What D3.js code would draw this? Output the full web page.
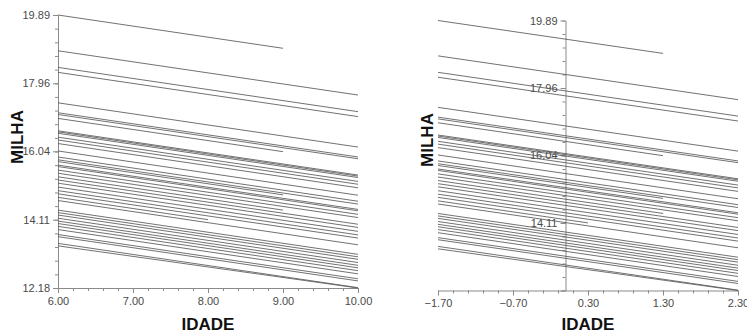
<!DOCTYPE html>
<html><head><meta charset="utf-8">
<script src="https://cdn.jsdelivr.net/npm/d3@7"></script>
<style>body{margin:0;background:#fff}svg{display:block}</style>
</head><body><svg id="c" width="747" height="334"></svg>
<script>
// Data
const idadeStart = 6.0;
const idadeEnd = [9,10,10,10,10,10,10,9,10,10,10,10,10,10,10,10,10,9,10,10,10,10,9,10,10,10,10,10,8,10,10,10,10,10,10,10,10,10,10,10,10,10];
const milhaStart = [19.89,18.88,18.41,18.27,17.41,17.13,17.08,16.97,16.62,16.59,16.55,16.44,16.36,16.26,16.05,15.88,15.80,15.75,15.65,15.61,15.51,15.42,15.32,15.23,15.14,15.03,14.93,14.84,14.74,14.65,14.38,14.31,14.24,14.15,14.07,14.00,13.92,13.83,13.69,13.63,13.44,13.37];
const milhaEnd = [18.95,17.63,17.16,17.02,16.16,15.88,15.83,16.03,15.37,15.34,15.30,15.19,15.11,15.01,14.80,14.63,14.55,14.81,14.40,14.36,14.26,14.17,14.38,13.98,13.89,13.78,13.68,13.59,14.11,13.40,13.13,13.06,12.99,12.90,12.82,12.75,12.67,12.58,12.44,12.38,12.19,12.18];
const centerAge = 7.70;
const yTicks = [12.18,14.11,16.04,17.96,19.89];
const xTicksLeft = [6,7,8,9,10];
const xTicksRight = [-1.70,-0.70,0.30,1.30,2.30];
const yLabel = "MILHA", xLabel = "IDADE";

const svg = d3.select("#c");
const font = "'Liberation Sans', Arial, sans-serif";
const lines = idadeEnd.map((e,i)=>({x0:idadeStart,x1:e,y0:milhaStart[i],y1:milhaEnd[i]}));
const yMinor = d3.range(0,21).map(k=>12.18+k*(19.89-12.18)/20);

function styleAxis(g){
  g.selectAll("path,line").attr("stroke","#8a8a8a").attr("stroke-width",1);
  g.selectAll("text").attr("font-family",font).attr("font-size",11).attr("fill","#4a4a4a");
}

function panel(opt){
  const x = d3.scaleLinear().domain(opt.xd).range(opt.xr);
  const y = d3.scaleLinear().domain([12.18,19.89]).range(opt.yr);
  const g = svg.append("g");
  const xMinor = d3.range(0,21).map(k=>opt.xd[0]+k*0.2);
  const gxm = g.append("g").attr("transform",`translate(0,${opt.yr[0]})`)
    .call(d3.axisBottom(x).tickValues(xMinor).tickSize(3).tickSizeOuter(0).tickFormat(""));
  styleAxis(gxm);
  const gx = g.append("g").attr("transform",`translate(0,${opt.yr[0]})`)
    .call(d3.axisBottom(x).tickValues(opt.xt).tickSize(5).tickSizeOuter(0).tickPadding(4).tickFormat(d3.format(".2f")));
  styleAxis(gx);
  gx.select(".domain").remove();
  const ax = opt.yAxisAt===null ? opt.xr[0] : x(opt.yAxisAt);
  const gym = g.append("g").attr("transform",`translate(${ax},0)`)
    .call(d3.axisLeft(y).tickValues(yMinor).tickSize(3).tickSizeOuter(0).tickFormat(""));
  styleAxis(gym);
  const gy = g.append("g").attr("transform",`translate(${ax},0)`)
    .call(d3.axisLeft(y).tickValues(yTicks).tickSize(5).tickSizeOuter(0).tickPadding(3)
      .tickFormat(d=> (opt.yAxisAt!==null && d===12.18) ? "" : d3.format(".2f")(d)));
  styleAxis(gy);
  gy.select(".domain").remove();
  g.append("g").selectAll("line").data(lines).join("line")
    .attr("x1",d=>x(d.x0-opt.shift)).attr("x2",d=>x(d.x1-opt.shift))
    .attr("y1",d=>y(d.y0)).attr("y2",d=>y(d.y1))
    .attr("stroke","#5a5a5a").attr("stroke-width",1).attr("opacity",0.85);
  g.append("text").attr("x",(opt.xr[0]+opt.xr[1])/2).attr("y",330)
    .attr("text-anchor","middle").attr("font-family",font).attr("font-weight","bold")
    .attr("font-size",17).attr("fill","#111").text(xLabel);
  g.append("text").attr("transform",`translate(${opt.ylx},${opt.yly}) rotate(-90)`)
    .attr("text-anchor","middle").attr("font-family",font).attr("font-weight","bold")
    .attr("font-size",17).attr("fill","#111").text(yLabel);
}

panel({xd:[6,10],xr:[58,358],yr:[288,15],xt:xTicksLeft,shift:0,yAxisAt:null,ylx:23,yly:137});
panel({xd:[-1.70,2.30],xr:[438,738],yr:[290.5,20.5],xt:xTicksRight,shift:centerAge,yAxisAt:0,ylx:433,yly:140});
</script></body></html>
